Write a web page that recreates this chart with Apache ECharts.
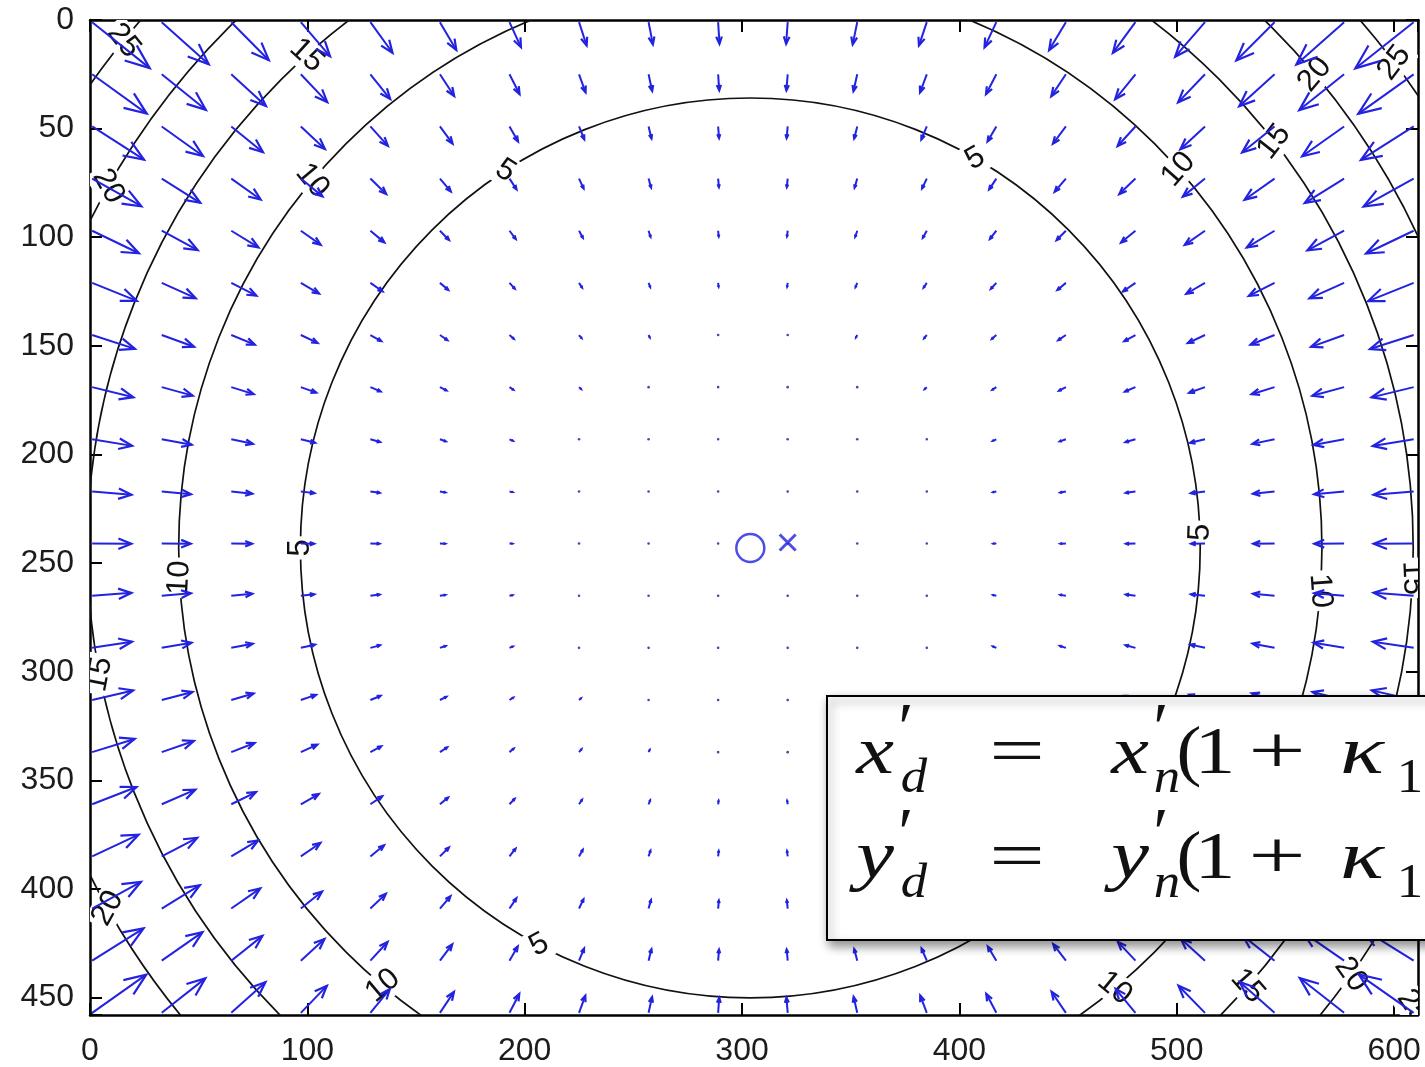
<!DOCTYPE html>
<html>
<head>
<meta charset="utf-8">
<title>Radial distortion field</title>
<script src="https://cdn.jsdelivr.net/npm/echarts@6/dist/echarts.min.js"></script>
<style>
  html, body { margin: 0; padding: 0; background: #fff; }
  #chart { width: 1425px; height: 1067px; }
</style>
</head>
<body>
<div id="chart"></div>
<script>
// sample grid of the distortion field (image pixels)
const gridX = [1, 33, 65, 97, 129, 161, 193, 225, 257, 289, 321, 353, 385, 417, 449, 481, 513, 545, 577, 609]
const gridY = [1, 25, 49, 73, 97, 121, 145, 169, 193, 217, 241, 265, 289, 313, 337, 361, 385, 409, 433, 457]

const shiftRadius = [0, 50, 100, 150, 207, 263, 305, 339, 371, 395]
const shiftSize = [0, 0.1, 0.7, 2.2, 5, 10, 15, 20, 25, 29]

// contour levels and where they sit
const contourLevels = [5, 10, 15, 20, 25]
const contourRadii = [207, 263, 305, 339, 371]
// label positions on each contour, as angle round the principal point (deg, y pointing down)
const labelAngles = [
  [-123, -60, 180, -2, 118],
  [-140, -41.5, 177, 4.3, 130, 50.4],
  [-132, -37.8, 169, 2.6, 41.4],
  [-150.6, -40, 150.7, 35.4],
  [-141, -37, 34.7]
]

const principalPoint = [303.8, 243]
const imageCentre = [321, 240.5]

const xTicks = [0, 100, 200, 300, 400, 500, 600]
const yTicks = [0, 50, 100, 150, 200, 250, 300, 350, 400, 450]
const xMax = 611
const yMax = 458

const arrowScale = 1.22
const blue = '#2222e0'

function shiftAt(r) {
  for (let i = 1; i < shiftRadius.length; i++) {
    if (r <= shiftRadius[i]) {
      const t = (r - shiftRadius[i - 1]) / (shiftRadius[i] - shiftRadius[i - 1])
      return shiftSize[i - 1] + t * (shiftSize[i] - shiftSize[i - 1])
    }
  }
  return shiftSize[shiftSize.length - 1]
}

const arrowData = []
gridY.forEach((y) => {
  gridX.forEach((x) => {
    const dx = principalPoint[0] - x
    const dy = principalPoint[1] - y
    const r = Math.hypot(dx, dy)
    const s = r > 0 ? (shiftAt(r) * arrowScale) / r : 0
    arrowData.push([x, y, dx * s, dy * s])
  })
})

const contourData = contourLevels.map((lv, i) => [principalPoint[0], principalPoint[1], contourRadii[i], lv])

const labelData = []
contourLevels.forEach((lv, i) => {
  labelAngles[i].forEach((a) => {
    labelData.push([principalPoint[0], principalPoint[1], contourRadii[i], a, lv])
  })
})

function renderArrow(params, api) {
  const x = api.value(0)
  const y = api.value(1)
  const p0 = api.coord([x, y])
  const p1 = api.coord([x + api.value(2), y + api.value(3)])
  const dx = p1[0] - p0[0]
  const dy = p1[1] - p0[1]
  const len = Math.hypot(dx, dy)
  if (len < 2) {
    return { type: 'circle', shape: { cx: p0[0], cy: p0[1], r: 1.3 }, style: { fill: '#4a4a9a' } }
  }
  const ux = dx / len
  const uy = dy / len
  const hl = 0.33 * len
  const hw = 0.4 * hl
  const bx = p1[0] - ux * hl
  const by = p1[1] - uy * hl
  return {
    type: 'group',
    children: [
      { type: 'line', shape: { x1: p0[0], y1: p0[1], x2: p1[0], y2: p1[1] }, style: { stroke: blue, lineWidth: 2 } },
      {
        type: 'polyline',
        shape: { points: [[bx - uy * hw, by + ux * hw], [p1[0], p1[1]], [bx + uy * hw, by - ux * hw]] },
        style: { fill: 'none', stroke: blue, lineWidth: 2.2 }
      }
    ]
  }
}

function renderContour(params, api) {
  const c = api.coord([api.value(0), api.value(1)])
  const r = api.size([api.value(2), api.value(2)])[0]
  return { type: 'circle', shape: { cx: c[0], cy: c[1], r: r }, style: { fill: 'none', stroke: '#111', lineWidth: 1.7 } }
}

function renderLabel(params, api) {
  const r = api.value(2)
  const a = (api.value(3) * Math.PI) / 180
  const p = api.coord([api.value(0) + r * Math.cos(a), api.value(1) + r * Math.sin(a)])
  // tangent angle, kept upright, then mirrored as the y axis runs downwards
  let phi = Math.atan2(-Math.cos(a), -Math.sin(a))
  if (phi > Math.PI / 2) phi -= Math.PI
  if (phi <= -Math.PI / 2) phi += Math.PI
  return {
    type: 'text',
    x: p[0],
    y: p[1],
    rotation: -phi,
    style: {
      text: String(api.value(4)),
      font: '31px "Liberation Sans", Arial, sans-serif',
      fill: '#111',
      align: 'center',
      verticalAlign: 'middle',
      backgroundColor: '#fff',
      padding: [0, 3]
    }
  }
}

const axisLine = { onZero: false, lineStyle: { color: '#000', width: 2.5 } }
const axisTick = { inside: true, length: 12, lineStyle: { color: '#000', width: 2 } }
const labelFont = { fontSize: 32, fontFamily: '"Liberation Sans", Arial, sans-serif', color: '#1c1c1c' }

// equation overlay: [text, centre x, baseline y, size, italic, scaleX]
const eqPieces = []
;[
  ['x', 778],
  ['y', 883]
].forEach(([v, b]) => {
  eqPieces.push(
    [v, 875, b, 68, true, 1.25],
    ['\u2032', 906, b - 22, 70, false, 1],
    ['d', 914, b + 18, 48, true, 1.1],
    ['=', 1017, b, 68, false, 1.45],
    [v, 1130, b, 68, true, 1.25],
    ['\u2032', 1161, b - 22, 70, false, 1],
    ['n', 1167, b + 18, 48, true, 1.1],
    ['(', 1189, b, 68, false, 1.1],
    ['1', 1215, b, 68, false, 1.2],
    ['+', 1277, b, 68, false, 1.5],
    ['\u03ba', 1362, b, 68, true, 1.35],
    ['1', 1410, b + 18, 48, false, 1.1]
  )
})

const graphic = [
  {
    type: 'rect',
    z: 100,
    shape: { x: 827, y: 696, width: 660, height: 244 },
    style: {
      fill: '#fff',
      stroke: '#000',
      lineWidth: 2,
      shadowBlur: 10,
      shadowOffsetX: 3,
      shadowOffsetY: 5,
      shadowColor: 'rgba(0,0,0,0.45)'
    }
  }
].concat(
  eqPieces.map(([t, x, b, size, italic, sx]) => ({
    type: 'text',
    z: 101,
    x: x,
    y: b - 0.3375 * size,
    scaleX: sx,
    style: {
      text: t,
      font: (italic ? 'italic ' : '') + size + 'px "Liberation Serif", "DejaVu Serif", serif',
      fill: '#111',
      align: 'center',
      verticalAlign: 'middle'
    }
  }))
)

const chart = echarts.init(document.getElementById('chart'))
chart.setOption({
  animation: false,
  backgroundColor: '#fff',
  grid: { left: 90, top: 20, right: 7, bottom: 51 },
  xAxis: [
    {
      type: 'value',
      position: 'bottom',
      min: 0,
      max: xMax,
      interval: 100,
      splitLine: { show: false },
      axisLine,
      axisTick,
      axisLabel: { ...labelFont, margin: 20, formatter: (v) => (xTicks.includes(v) ? String(v) : '') }
    },
    {
      type: 'value',
      position: 'top',
      min: 0,
      max: xMax,
      interval: 100,
      splitLine: { show: false },
      axisLine,
      axisTick,
      axisLabel: { show: false }
    }
  ],
  yAxis: [
    {
      type: 'value',
      position: 'left',
      inverse: true,
      min: 0,
      max: yMax,
      interval: 50,
      splitLine: { show: false },
      axisLine,
      axisTick,
      axisLabel: { ...labelFont, margin: 16, formatter: (v) => (yTicks.includes(v) ? String(v) : '') }
    },
    {
      type: 'value',
      position: 'right',
      inverse: true,
      min: 0,
      max: yMax,
      interval: 50,
      splitLine: { show: false },
      axisLine,
      axisTick,
      axisLabel: { show: false }
    }
  ],
  series: [
    { type: 'custom', name: 'contours', z: 2, clip: true, silent: true, renderItem: renderContour, encode: { x: 0, y: 1 }, data: contourData },
    { type: 'custom', name: 'labels', z: 3, clip: true, silent: true, renderItem: renderLabel, encode: { x: 0, y: 1 }, data: labelData },
    { type: 'custom', name: 'arrows', z: 4, clip: true, silent: true, renderItem: renderArrow, encode: { x: 0, y: 1 }, data: arrowData },
    {
      type: 'scatter',
      name: 'principal point',
      z: 5,
      symbol: 'circle',
      symbolSize: 28,
      itemStyle: { color: 'rgba(0,0,0,0)', borderColor: blue, borderWidth: 2.5 },
      data: [principalPoint]
    },
    {
      type: 'scatter',
      name: 'image centre',
      z: 5,
      symbol: 'path://M0,0L10,10M10,0L0,10',
      symbolSize: 16,
      itemStyle: { color: 'none', borderColor: blue, borderWidth: 3 },
      data: [imageCentre]
    }
  ],
  graphic
})
</script>
</body>
</html>
